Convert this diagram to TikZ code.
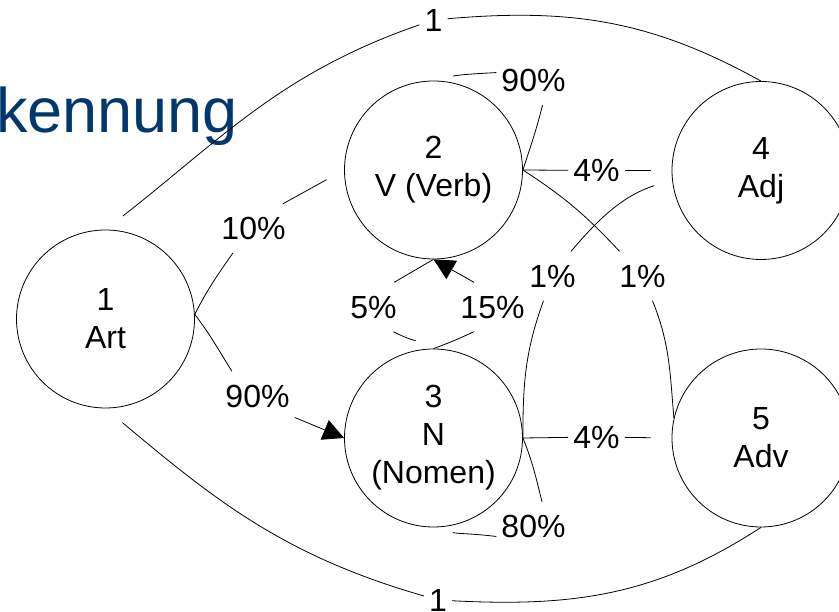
\documentclass[tikz,border=0pt]{standalone}
\usepackage{fontspec}
\setmainfont{Liberation Sans}
\usetikzlibrary{arrows.meta}
\definecolor{titleblue}{RGB}{0,56,110}
\begin{document}
\begin{tikzpicture}[x=1pt,y=1pt,
  every node/.style={font=\fontsize{32}{38}\selectfont},
  state/.style={draw, circle, minimum size=178pt, inner sep=0pt, line width=0.8pt, align=center},
  prob/.style={inner xsep=5pt, inner ysep=13pt, text height=23pt, text depth=0pt},
  conn/.style={line width=0.8pt},
  tip/.style={-{Triangle[length=21pt,width=21pt]}},
]
\useasboundingbox (0,0) rectangle (839,612);

% heading, partly outside the page
\node[anchor=base west, inner sep=0pt, text=titleblue,
      font=\fontsize{63}{75}\selectfont] (title) at (-4,479) {kennung};

% states
\node[state] (n1) at (105.5,293) {1\\Art};
\node[state] (n2) at (433.5,442) {2\\V (Verb)};
\node[state] (n3) at (433.5,174) {3\\N\\(Nomen)};
\node[state] (n4) at (761,441.5) {4\\Adj};
\node[state] (n5) at (761,174) {5\\Adv};

% transition probabilities
\node[prob] (t14) at (433.5,592) {1};
\node[prob] (t15) at (438,12) {1};
\node[prob] (t12) at (253.5,383.5) {10\%};
\node[prob] (t13) at (257.5,216) {90\%};
\node[prob] (t22) at (533.5,531.5) {90\%};
\node[prob] (t24) at (596.5,441.5) {4\%};
\node[prob] (t25) at (642.5,336) {1\%};
\node[prob] (t43) at (552.5,336) {1\%};
\node[prob] (t35) at (596.5,175) {4\%};
\node[prob] (t33) at (533.5,85.5) {80\%};
\node[prob] (t32) at (492.5,305) {15\%};
\node[prob] (t23) at (373.5,305) {5\%};

% Art <-> Adj, Art <-> Adv
\draw[conn, shorten <=22pt] (n1.north) to[out=38,in=199] (t14);
\draw[conn] (t14) to[out=5,in=151] (n4.north);
\draw[conn, shorten <=22pt] (n1.south) to[out=-40,in=164] (t15);
\draw[conn] (t15) to[out=-3,in=213] (n5.south);

% Art -> V, Art -> N
\draw[conn] (n1.3) to[out=63,in=-125] (t12.-130);
\draw[conn, shorten >=20pt] (t12.40) -- (n2.west);
\draw[conn] (n1.3) to[out=-53,in=122] (t13.136);
\draw[conn, tip] (t13.-30) -- (n3.west);

% V -> V
\draw[conn] (n2.east) to[out=72,in=-104] (t22.-70);
\draw[conn, shorten >=20pt] (t22.168) to[out=183,in=13] (n2.north);

% V -> Adj, V -> Adv
\draw[conn] (n2.east) -- (t24);
\draw[conn, shorten >=21pt] (t24) -- (n4.west);
\draw[conn] (n2.east) to[out=-33,in=133] (t25);
\draw[conn] (t25) to[out=-68,in=95] (n5.167);

% N -> Adj, N -> Adv
\draw[conn] (n3.east) to[out=90,in=250] (t43);
\draw[conn, shorten >=19pt] (t43.53) to[out=50,in=198] (n4.186);
\draw[conn] (n3.east) -- (t35);
\draw[conn, shorten >=21pt] (t35) -- (n5.west);

% N -> N
\draw[conn] (n3.east) to[out=-68,in=104] (t33.71);
\draw[conn, shorten >=20pt] (t33.195) to[out=173,in=-15] (n3.south);

% N -> V, V -> N
\draw[conn] (n3.north) to[out=20,in=205] (t32.-127);
\draw[conn, tip] (t32.127) to[out=150,in=-30] (n2.south);
\draw[conn] (n2.south) to[out=210,in=30] (t23.50);
\draw[conn, shorten >=20pt] (t23.-51) to[out=-28,in=155] (n3.north);
\end{tikzpicture}
\end{document}
